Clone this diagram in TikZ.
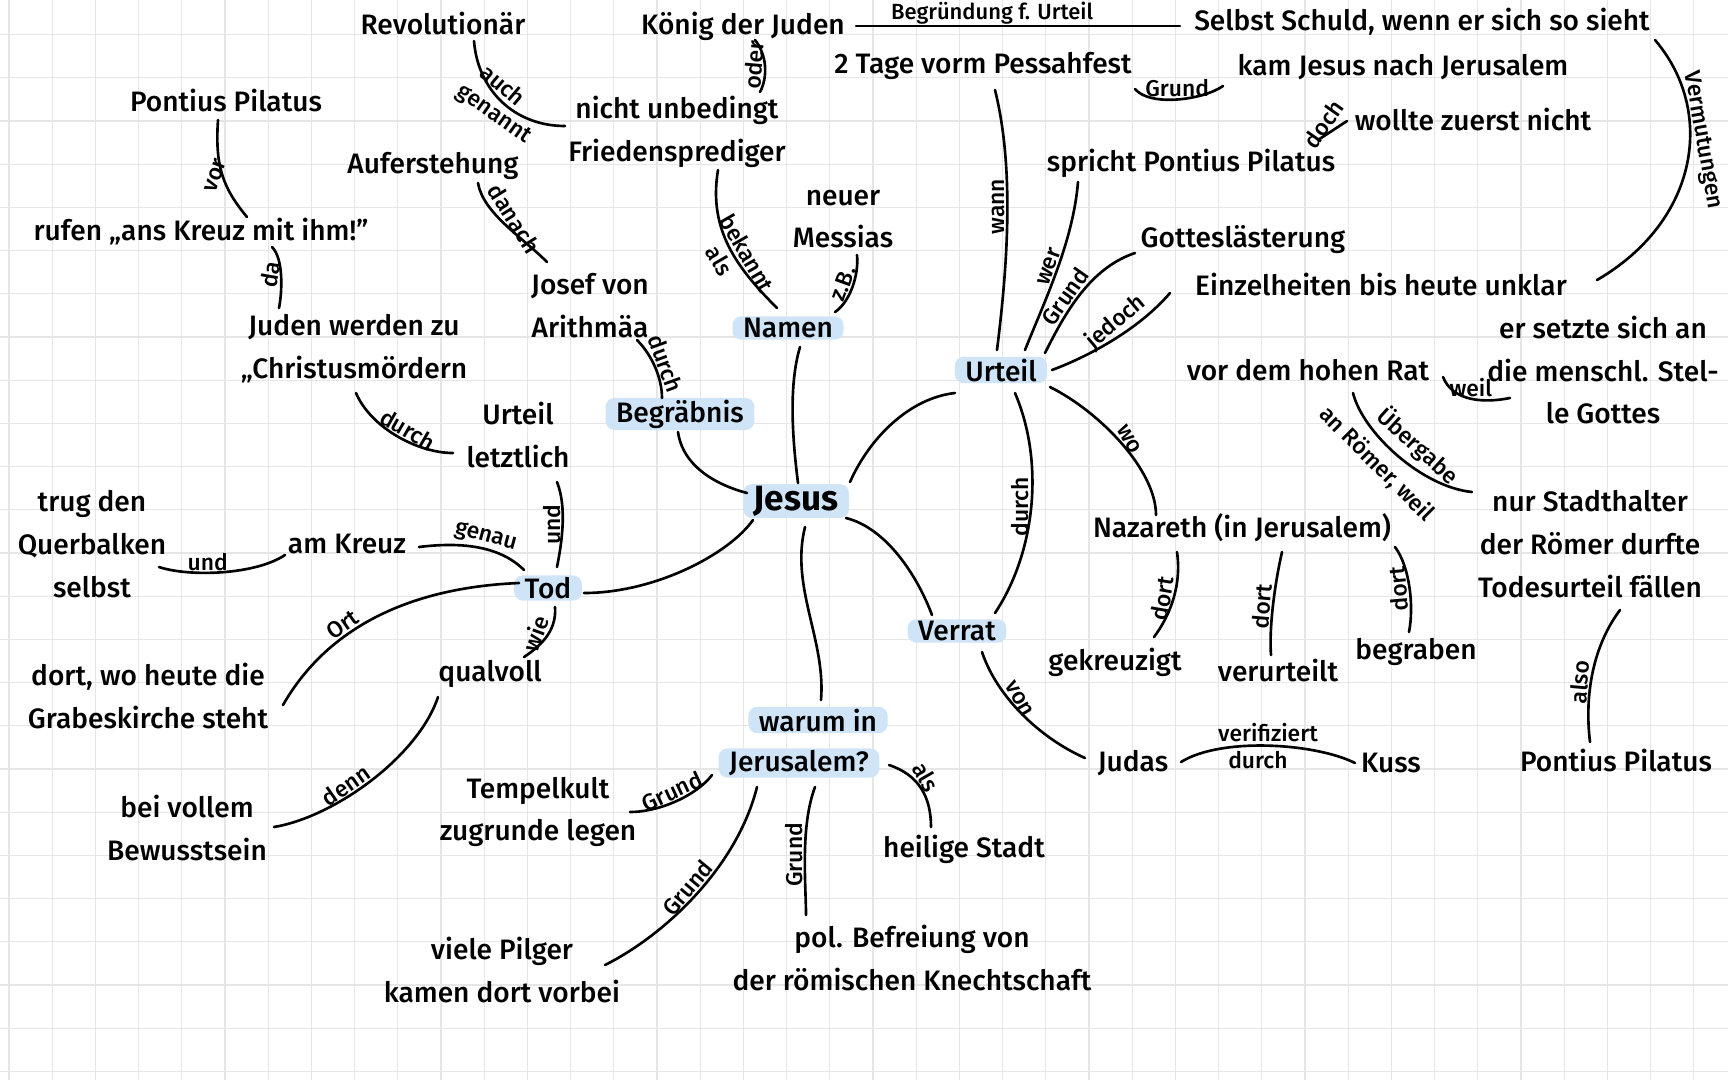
\documentclass[tikz,border=0pt]{standalone}
\usepackage{fontspec}
\setmainfont{Fira Sans}[UprightFont={* Medium}, BoldFont={* Bold}]
\definecolor{hlblue}{HTML}{CFE4F7}
\definecolor{gridc}{HTML}{E6E6E6}
\tikzset{
  txt/.style={inner sep=1pt, align=center, font=\fontsize{16}{24.4}\selectfont, text=black},
  hl/.style={txt, fill=hlblue, rounded corners=5pt, inner xsep=6pt, inner ysep=1pt},
  lab/.style={font=\fontsize{13}{14}\selectfont, inner sep=0.5pt},
  con/.style={line width=1.5pt, line cap=round},
}
\begin{document}
\begin{tikzpicture}[x=0.02cm,y=-0.02cm]
\useasboundingbox (0,0) rectangle (1728,1080);
\fill[white] (0,0) rectangle (1728,1080);
\foreach \i in {0,...,39} \draw[gridc, line width=0.7pt] ({9+43.2*\i},0) -- ({9+43.2*\i},1080);
\foreach \j in {0,...,25} \draw[gridc, line width=0.7pt] (0,{-8.6+43.2*\j}) -- (1728,{-8.6+43.2*\j});

% nodes
\node[txt] (rev) at (443,23) {Revolutionär};
\node[txt] (koenig) at (743,26) {König der Juden};
\node[txt] (schuld) at (1422,22) {Selbst Schuld, wenn er sich so sieht};
\node[txt] (tage) at (983,66) {2 Tage vorm Pessahfest};
\node[txt] (kam) at (1403,67) {kam Jesus nach Jerusalem};
\node[txt] (wollte) at (1473,119) {wollte zuerst nicht};
\node[txt] (pp1) at (226,100) {Pontius Pilatus};
\node[txt] (frieden) at (677,132) {nicht unbedingt\\Friedensprediger};
\node[txt] (aufer) at (433,166) {Auferstehung};
\node[txt] (spricht) at (1191,163) {spricht Pontius Pilatus};
\node[txt] (rufen) at (201,232) {rufen „ans Kreuz mit ihm!"};
\node[txt] (messias) at (843,219) {neuer\\Messias};
\node[txt] (gottes) at (1243,240) {Gotteslästerung};
\node[txt] (josef) at (590,306) {Josef von\\Arithmäa};
\node[txt] (einzel) at (1381,284) {Einzelheiten bis heute unklar};
\node[txt] (juden) at (354,349) {Juden werden zu\\„Christusmördern};
\node[hl] (namen) at (788,328) {Namen};
\node[txt] (setzte) at (1603,370) {er setzte sich an\\die menschl. Stel-\\le Gottes};
\node[hl] (urteil) at (1001,370) {Urteil};
\node[txt] (rat) at (1308,370) {vor dem hohen Rat};
\node[txt] (letzt) at (518,435) {Urteil\\letztlich};
\node[hl] (begr) at (680,414) {Begräbnis};
\node[hl, font=\fontsize{20}{24}\selectfont\bfseries] (jesus) at (796,501) {Jesus};
\node[txt] (trug) at (92,544) {trug den\\Querbalken\\selbst};
\node[txt] (stadt) at (1590,544) {nur Stadthalter\\der Römer durfte\\Todesurteil fällen};
\node[txt] (naz) at (1242,528) {Nazareth (in Jerusalem)};
\node[txt] (kreuz) at (347,544) {am Kreuz};
\node[hl] (tod) at (548,588) {Tod};
\node[hl] (verrat) at (957,631) {Verrat};
\node[txt] (ort) at (148,696) {dort, wo heute die\\Grabeskirche steht};
\node[txt] (qual) at (490,674) {qualvoll};
\node[txt] (gekr) at (1115,662) {gekreuzigt};
\node[txt] (verur) at (1278,670) {verurteilt};
\node[txt] (begraben) at (1416,652) {begraben};
\node[hl] (warum) at (818,720) {warum in};
\node[hl] (jer) at (799,763) {Jerusalem?};
\node[txt] (judas) at (1133,763) {Judas};
\node[txt] (kuss) at (1391,763) {Kuss};
\node[txt] (pp2) at (1616,760) {Pontius Pilatus};
\node[txt] (voll) at (187,828) {bei vollem\\Bewusstsein};
\node[txt] (tempel) at (538,812) {Tempelkult\\zugrunde legen};
\node[txt] (heilig) at (964,849) {heilige Stadt};
\node[txt] (pilger) at (502,970) {viele Pilger\\kamen dort vorbei};
\node[txt] (pol) at (912,958) {pol. Befreiung von\\der römischen Knechtschaft};

% connectors
\draw[con] ([shift={(31,18)}]rev.center) .. controls +(4,50) and +(-50,0) .. ([shift={(-112,-6)}]frieden.center) node[lab,rotate=-40,above=1pt,pos=0.42]{auch} node[lab,rotate=-35,below=2pt,pos=0.5]{genannt};
\draw[con] ([shift={(12,14)}]koenig.center) .. controls +(12,15) and +(8,-15) .. ([shift={(83,-40)}]frieden.center) node[lab,rotate=85,above,pos=0.5]{oder};
\draw[con] ([shift={(113,0)}]koenig.center) -- ([shift={(-242,4)}]schuld.center) node[lab,font=\fontsize{12.5}{14}\selectfont,above=0pt,pos=0.42]{Begründung f. Urteil};
\draw[con] ([shift={(233,18)}]schuld.center) .. controls +(60,70) and +(103,-60) .. ([shift={(216,-4)}]einzel.center) node[lab,rotate=-80,above,pos=0.42]{Vermutungen};
\draw[con] ([shift={(-8,20)}]pp1.center) .. controls +(-3,45) and +(-25,-30) .. ([shift={(46,-15)}]rufen.center) node[lab,rotate=70,above,pos=0.55]{vor};
\draw[con] ([shift={(71,15)}]rufen.center) .. controls +(12,12) and +(3,-15) .. ([shift={(-75,-41)}]juden.center) node[lab,rotate=80,above,pos=0.5]{da};
\draw[con] ([shift={(45,17)}]aufer.center) .. controls +(5,30) and +(-25,-25) .. ([shift={(-43,-44)}]josef.center) node[lab,rotate=-58,above,pos=0.5]{danach};
\draw[con] ([shift={(2,44)}]juden.center) .. controls +(15,35) and +(-35,0) .. ([shift={(-65,18)}]letzt.center) node[lab,rotate=-30,above,pos=0.55]{durch};
\draw[con] ([shift={(41,38)}]frieden.center) .. controls +(-10,60) and +(-40,-40) .. ([shift={(-11,-20)}]namen.center) node[lab,rotate=-60,above=1pt,pos=0.6]{bekannt} node[lab,rotate=-60,below=2pt,pos=0.55]{als};
\draw[con] ([shift={(47,-16)}]namen.center) .. controls +(15,-10) and +(2,20) .. ([shift={(14,36)}]messias.center) node[lab,rotate=70,above,pos=0.5]{z.B.};
\draw[con] ([shift={(47,34)}]josef.center) .. controls +(15,15) and +(0,-20) .. ([shift={(-18,-16)}]begr.center) node[lab,rotate=-70,above,pos=0.5]{durch};
\draw[con] ([shift={(-2,18)}]begr.center) .. controls +(5,35) and +(-30,-8) .. ([shift={(-49,-8)}]jesus.center);
\draw[con] ([shift={(12,19)}]namen.center) .. controls +(-12,40) and +(-5,-40) .. ([shift={(2,-18)}]jesus.center);
\draw[con] ([shift={(54,-19)}]jesus.center) .. controls +(20,-45) and +(-45,5) .. ([shift={(-46,23)}]urteil.center);
\draw[con] ([shift={(12,24)}]tage.center) .. controls +(20,80) and +(10,-80) .. ([shift={(-4,-20)}]urteil.center) node[lab,rotate=90,above,pos=0.45]{wann};
\draw[con] ([shift={(-113,19)}]spricht.center) .. controls +(-5,60) and +(20,-50) .. ([shift={(24,-20)}]urteil.center) node[lab,rotate=70,above,pos=0.5]{wer};
\draw[con] ([shift={(-108,13)}]gottes.center) .. controls +(-45,15) and +(20,-40) .. ([shift={(44,-17)}]urteil.center) node[lab,rotate=55,above,pos=0.58]{Grund};
\draw[con] ([shift={(-211,9)}]einzel.center) .. controls +(-30,35) and +(40,-15) .. ([shift={(51,0)}]urteil.center) node[lab,rotate=40,above,pos=0.42]{jedoch};
\draw[con] ([shift={(49,17)}]urteil.center) .. controls +(50,25) and +(0,-45) .. ([shift={(-86,-13)}]naz.center) node[lab,rotate=-60,above,pos=0.5]{wo};
\draw[con] ([shift={(14,23)}]urteil.center) .. controls +(30,70) and +(40,-60) .. ([shift={(38,-18)}]verrat.center) node[lab,rotate=90,above,pos=0.5]{durch};
\draw[con] ([shift={(50,17)}]jesus.center) .. controls +(40,10) and +(-15,-40) .. ([shift={(-25,-16)}]verrat.center);
\draw[con] ([shift={(-65,24)}]naz.center) .. controls +(5,35) and +(15,-20) .. ([shift={(39,-25)}]gekr.center) node[lab,rotate=80,above,pos=0.5]{dort};
\draw[con] ([shift={(40,24)}]naz.center) .. controls +(-8,35) and +(-2,-25) .. ([shift={(-7,-15)}]verur.center) node[lab,rotate=85,above,pos=0.5]{dort};
\draw[con] ([shift={(153,19)}]naz.center) .. controls +(15,20) and +(5,-25) .. ([shift={(-7,-20)}]begraben.center) node[lab,rotate=95,above,pos=0.5]{dort};
\draw[con] ([shift={(25,21)}]verrat.center) .. controls +(15,45) and +(-45,-20) .. ([shift={(-48,-5)}]judas.center) node[lab,rotate=-60,above,pos=0.4]{von};
\draw[con] ([shift={(48,-1)}]judas.center) .. controls +(40,-25) and +(-40,-20) .. ([shift={(-36,0)}]kuss.center) node[lab,above=1pt,pos=0.5]{verifiziert} node[lab,below=2pt,pos=0.45]{durch};
\draw[con] ([shift={(45,23)}]rat.center) .. controls +(10,40) and +(-50,-5) .. ([shift={(-118,-52)}]stadt.center) node[lab,rotate=-42,above=3pt,pos=0.55]{Übergabe} node[lab,rotate=-45,below=4pt,pos=0.45]{an Römer, weil};
\draw[con] ([shift={(135,7)}]rat.center) .. controls +(10,25) and +(-25,5) .. ([shift={(-93,28)}]setzte.center) node[lab,above,pos=0.5]{weil};
\draw[con] ([shift={(30,66)}]stadt.center) .. controls +(-30,40) and +(-5,-40) .. ([shift={(-26,-18)}]pp2.center) node[lab,rotate=85,above,pos=0.55]{also};
\draw[con] ([shift={(36,5)}]tod.center) .. controls +(70,0) and +(-25,35) .. ([shift={(-43,19)}]jesus.center);
\draw[con] ([shift={(39,47)}]letzt.center) .. controls +(10,25) and +(5,-25) .. ([shift={(9,-21)}]tod.center) node[lab,rotate=90,above,pos=0.5]{und};
\draw[con] ([shift={(-24,-18)}]tod.center) .. controls +(-25,-25) and +(40,-5) .. ([shift={(72,3)}]kreuz.center) node[lab,rotate=-15,above,pos=0.45]{genau};
\draw[con] ([shift={(-62,11)}]kreuz.center) .. controls +(-30,20) and +(30,10) .. ([shift={(67,23)}]trug.center) node[lab,above,pos=0.6]{und};
\draw[con] ([shift={(-29,-5)}]tod.center) .. controls +(-120,5) and +(40,-70) .. ([shift={(135,9)}]ort.center) node[lab,rotate=35,above,pos=0.6]{Ort};
\draw[con] ([shift={(7,19)}]tod.center) .. controls +(2,25) and +(15,-10) .. ([shift={(34,-17)}]qual.center) node[lab,rotate=70,above,pos=0.5]{wie};
\draw[con] ([shift={(-52,23)}]qual.center) .. controls +(-20,60) and +(60,-10) .. ([shift={(87,-1)}]voll.center) node[lab,rotate=35,above,pos=0.6]{denn};
\draw[con] ([shift={(9,26)}]jesus.center) .. controls +(-15,60) and +(5,-60) .. ([shift={(3,-20)}]warum.center);
\draw[con] ([shift={(-87,12)}]jer.center) .. controls +(-15,20) and +(30,0) .. ([shift={(92,0)}]tempel.center) node[lab,rotate=25,above,pos=0.5]{Grund};
\draw[con] ([shift={(-42,24)}]jer.center) .. controls +(-20,80) and +(60,-30) .. ([shift={(103,-5)}]pilger.center) node[lab,rotate=50,above,pos=0.5]{Grund};
\draw[con] ([shift={(16,24)}]jer.center) .. controls +(-15,40) and +(0,-30) .. ([shift={(-106,-43)}]pol.center) node[lab,rotate=90,above,pos=0.5]{Grund};
\draw[con] ([shift={(90,2)}]jer.center) .. controls +(30,10) and +(0,-30) .. ([shift={(-33,-22)}]heilig.center) node[lab,rotate=-60,above,pos=0.4]{als};
\draw[con] ([shift={(127,-23)}]spricht.center) -- ([shift={(-126,2)}]wollte.center) node[lab,rotate=55,above,pos=0.5]{doch};
\draw[con] ([shift={(152,23)}]tage.center) .. controls +(15,18) and +(-20,14) .. ([shift={(-180,19)}]kam.center) node[lab,above,pos=0.5]{Grund};
\end{tikzpicture}
\end{document}
